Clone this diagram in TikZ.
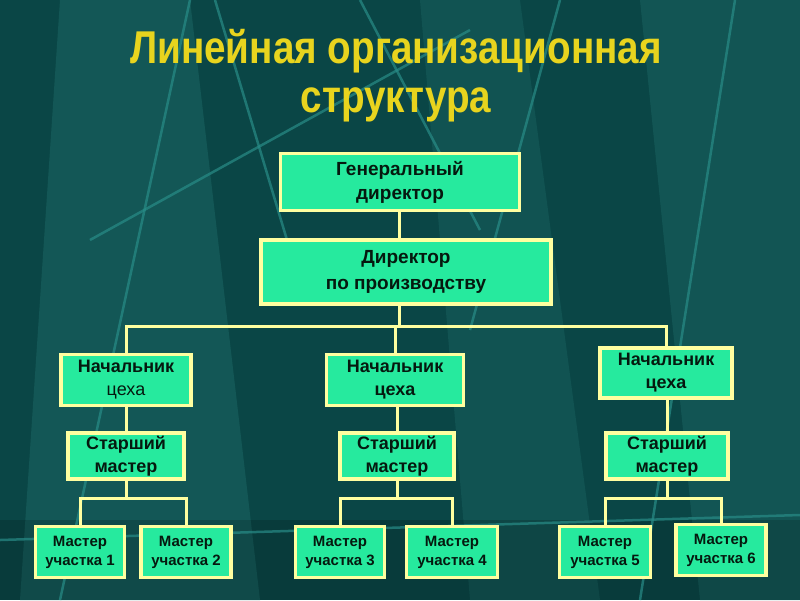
\documentclass[tikz,border=0pt]{standalone}
\usepackage{fontspec}
\setmainfont{Liberation Sans}
\newfontfamily\titlefont[FakeStretch=0.84]{Liberation Sans}
\usetikzlibrary{positioning}
\definecolor{bgteal}{RGB}{10,70,70}
\definecolor{bandteal}{RGB}{22,92,90}
\definecolor{streak}{RGB}{40,140,135}
\definecolor{boxfill}{RGB}{38,234,158}
\definecolor{boxline}{RGB}{255,255,160}
\definecolor{boxtext}{RGB}{5,25,15}
\definecolor{titlecol}{RGB}{232,212,30}
\tikzset{
  post/.style={draw=boxline, line width=3.5pt, fill=boxfill, text=boxtext,
    font=\bfseries\fontsize{18}{23}\selectfont, align=center, inner sep=0pt},
  small post/.style={post, font=\bfseries\fontsize{15}{19}\selectfont},
  link/.style={draw=boxline, line width=3pt},
  streakline/.style={streak, line width=2.5pt, opacity=0.7}
}

\begin{document}
\begin{tikzpicture}[x=1pt, y=-1pt]
  % background
  \fill[bgteal] (0,0) rectangle (800,600);
  \useasboundingbox (0,0) rectangle (800,600);
  \fill[bandteal, opacity=0.8] (60,0) -- (190,0) -- (260,600) -- (20,600) -- cycle;
  \fill[bandteal, opacity=0.6] (420,0) -- (520,0) -- (600,600) -- (470,600) -- cycle;
  \fill[bandteal, opacity=0.7] (640,0) -- (800,0) -- (800,600) -- (700,600) -- cycle;
  \fill[black, opacity=0.15] (0,520) rectangle (800,600);
  \draw[streakline] (190,0) -- (60,600);
  \draw[streakline] (215,0) -- (290,250);
  \draw[streakline] (360,0) -- (480,230);
  \draw[streakline] (560,0) -- (470,330);
  \draw[streakline] (735,0) -- (640,600);
  \draw[streakline] (90,240) -- (470,30);
  \draw[streakline] (0,540) -- (800,515);

  % title
  \node[titlecol, font=\titlefont\bfseries\fontsize{46}{49}\selectfont, align=center]
    (title) at (396,76) {Линейная организационная\\структура};

  % boxes
  \node[post, minimum width=239pt, minimum height=57pt, font=\bfseries\fontsize{19}{24}\selectfont] (gen) at (400,182) {Генеральный\\директор};
  \node[post, minimum width=290pt, minimum height=64pt, font=\bfseries\fontsize{19}{26}\selectfont] (dir) at (406,272) {Директор\\по производству};

  \node[post, minimum width=130pt, minimum height=51pt] (nach1) at (126,380) {Начальник\\{\mdseries цеха}};
  \node[post, minimum width=137pt, minimum height=51pt] (nach2) at (395,380) {Начальник\\цеха};
  \node[post, minimum width=132pt, minimum height=50pt] (nach3) at (666,373) {Начальник\\цеха};

  \node[post, minimum width=116pt, minimum height=46pt] (star1) at (126,456) {Старший\\мастер};
  \node[post, minimum width=114pt, minimum height=46pt] (star2) at (397,456) {Старший\\мастер};
  \node[post, minimum width=122pt, minimum height=46pt] (star3) at (667,456) {Старший\\мастер};

  \node[small post, minimum width=89pt, minimum height=51pt] (m1) at (80,552) {Мастер\\участка 1};
  \node[small post, minimum width=90pt, minimum height=51pt] (m2) at (186,552) {Мастер\\участка 2};
  \node[small post, minimum width=89pt, minimum height=51pt] (m3) at (340,552) {Мастер\\участка 3};
  \node[small post, minimum width=91pt, minimum height=51pt] (m4) at (452,552) {Мастер\\участка 4};
  \node[small post, minimum width=91pt, minimum height=51pt] (m5) at (605,552) {Мастер\\участка 5};
  \node[small post, minimum width=90pt, minimum height=51pt] (m6) at (721,550) {Мастер\\участка 6};

  % connectors
  \coordinate (bus) at (399,326);
  \coordinate (sub1) at (126,498);
  \coordinate (sub2) at (397,498);
  \coordinate (sub3) at (667,498);
  \draw[link] (gen.south -| bus) -- (dir.north -| bus);
  \draw[link] (dir.south -| bus) -- (bus);
  \draw[link] (nach1) |- (bus) -| (nach3);
  \draw[link] (nach2.north) -- (nach2.north |- bus);
  \draw[link] (nach1) -- (star1);
  \draw[link] (nach2.south -| star2) -- (star2);
  \draw[link] (nach3.south -| star3) -- (star3);
  \draw[link] (star1) -- (sub1);
  \draw[link] (star2) -- (sub2);
  \draw[link] (star3) -- (sub3);
  \draw[link] (m1) |- (sub1) -| (m2);
  \draw[link] (m3) |- (sub2) -| (m4);
  \draw[link] (m5) |- (sub3) -| (m6);
\end{tikzpicture}
\end{document}
